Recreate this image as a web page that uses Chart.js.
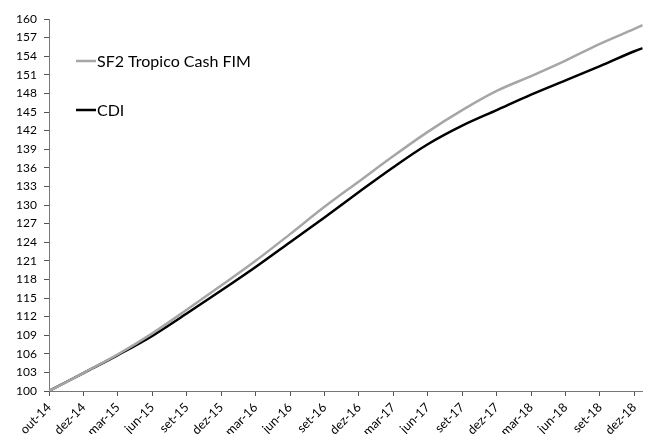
<!DOCTYPE html>
<html>
<head>
<meta charset="utf-8">
<script src="https://cdn.jsdelivr.net/npm/chart.js"></script>
<style>
  html, body { margin: 0; padding: 0; background: #fff; }
  .container { position: relative; width: 649px; height: 434px; }
</style>
</head>
<body>
<div class="container">
  <canvas id="myChart"></canvas>
</div>
<script>
// tick labels on the x axis (one every quarter)
const tickLabels = ['out-14', 'dez-14', 'mar-15', 'jun-15', 'set-15', 'dez-15', 'mar-16', 'jun-16', 'set-16',
                    'dez-16', 'mar-17', 'jun-17', 'set-17', 'dez-17', 'mar-18', 'jun-18', 'set-18', 'dez-18'];

// position of each reading, in quarter steps from out-14 (last one is the end of the series)
const periods = [0, 1, 2, 3, 4, 5, 6, 7, 8, 9, 10, 11, 12, 13, 14, 15, 16, 17, 17.24];

const tropico = [100.0, 102.9, 105.9, 109.3, 113.1, 117.0, 121.0, 125.3, 129.7, 133.8,
                 137.9, 141.8, 145.3, 148.4, 150.8, 153.3, 156.0, 158.4, 159.0];
const cdi     = [100.0, 102.9, 105.8, 108.9, 112.5, 116.2, 120.0, 124.0, 128.0, 132.1,
                 136.1, 139.8, 142.8, 145.3, 147.8, 150.1, 152.4, 154.8, 155.3];

const yTicks = { min: 100, max: 160, step: 3 };

const seriesNames = ['SF2 Tropico Cash FIM', 'CDI'];
const seriesColors = ['#a6a6a6', '#000000'];

let chart;

function toPoints(values) {
    return values.map((v, i) => ({ x: periods[i], y: v }));
}

// legend drawn inside the plot, like the original
const insideLegend = {
    id: 'insideLegend',
    afterDraw(c) {
        const ctx = c.ctx;
        const rows = [61, 110];
        ctx.save();
        ctx.font = '16px Lato';
        ctx.textBaseline = 'middle';
        ctx.textAlign = 'left';
        seriesNames.forEach((name, i) => {
            ctx.strokeStyle = seriesColors[i];
            ctx.lineWidth = 2.5;
            ctx.beginPath();
            ctx.moveTo(76, rows[i]);
            ctx.lineTo(96, rows[i]);
            ctx.stroke();
            ctx.fillStyle = '#000';
            ctx.fillText(name, 97, rows[i] + 1);
        });
        ctx.restore();
    }
};

function renderChart() {
    const ctx = document.getElementById('myChart');

    chart = new Chart(ctx, {
        type: 'line',
        data: {
            datasets: [{
                label: seriesNames[0],
                data: toPoints(tropico),
                borderColor: seriesColors[0],
                borderWidth: 2.5,
                pointRadius: 0,
                cubicInterpolationMode: 'monotone'
            }, {
                label: seriesNames[1],
                data: toPoints(cdi),
                borderColor: seriesColors[1],
                borderWidth: 2.5,
                pointRadius: 0,
                cubicInterpolationMode: 'monotone'
            }]
        },
        options: {
            responsive: true,
            maintainAspectRatio: false,
            animation: false,
            layout: {
                padding: { top: 19, right: 0, left: 0, bottom: 0 }
            },
            scales: {
                x: {
                    type: 'linear',
                    min: 0,
                    max: periods[periods.length - 1],
                    afterBuildTicks: (axis) => {
                        axis.ticks = tickLabels.map((_, i) => ({ value: i }));
                    },
                    afterCalculateLabelRotation: (axis) => { axis.labelRotation = 45; },
                    afterFit: (axis) => { axis.height = 43; },
                    grid: {
                        display: true,
                        drawOnChartArea: false,
                        drawTicks: true,
                        tickLength: 5,
                        color: '#555'
                    },
                    border: { display: true, color: '#777', width: 1 },
                    ticks: {
                        autoSkip: false,
                        maxRotation: 45,
                        minRotation: 45,
                        padding: 4,
                        color: '#000',
                        font: { family: 'Lato', size: 12.5 },
                        callback: (value) => tickLabels[value]
                    }
                },
                y: {
                    min: yTicks.min,
                    max: yTicks.max,
                    afterFit: (axis) => { axis.width = 49; },
                    grid: {
                        display: true,
                        drawOnChartArea: false,
                        drawTicks: true,
                        tickLength: 5,
                        color: '#555'
                    },
                    border: { display: true, color: '#777', width: 1 },
                    ticks: {
                        stepSize: yTicks.step,
                        padding: 7,
                        color: '#000',
                        font: { family: 'Lato', size: 12 }
                    }
                }
            },
            plugins: {
                legend: { display: false },
                tooltip: { enabled: false }
            }
        },
        plugins: [insideLegend]
    });
}

document.addEventListener('DOMContentLoaded', () => {
    renderChart();
});
</script>
</body>
</html>
